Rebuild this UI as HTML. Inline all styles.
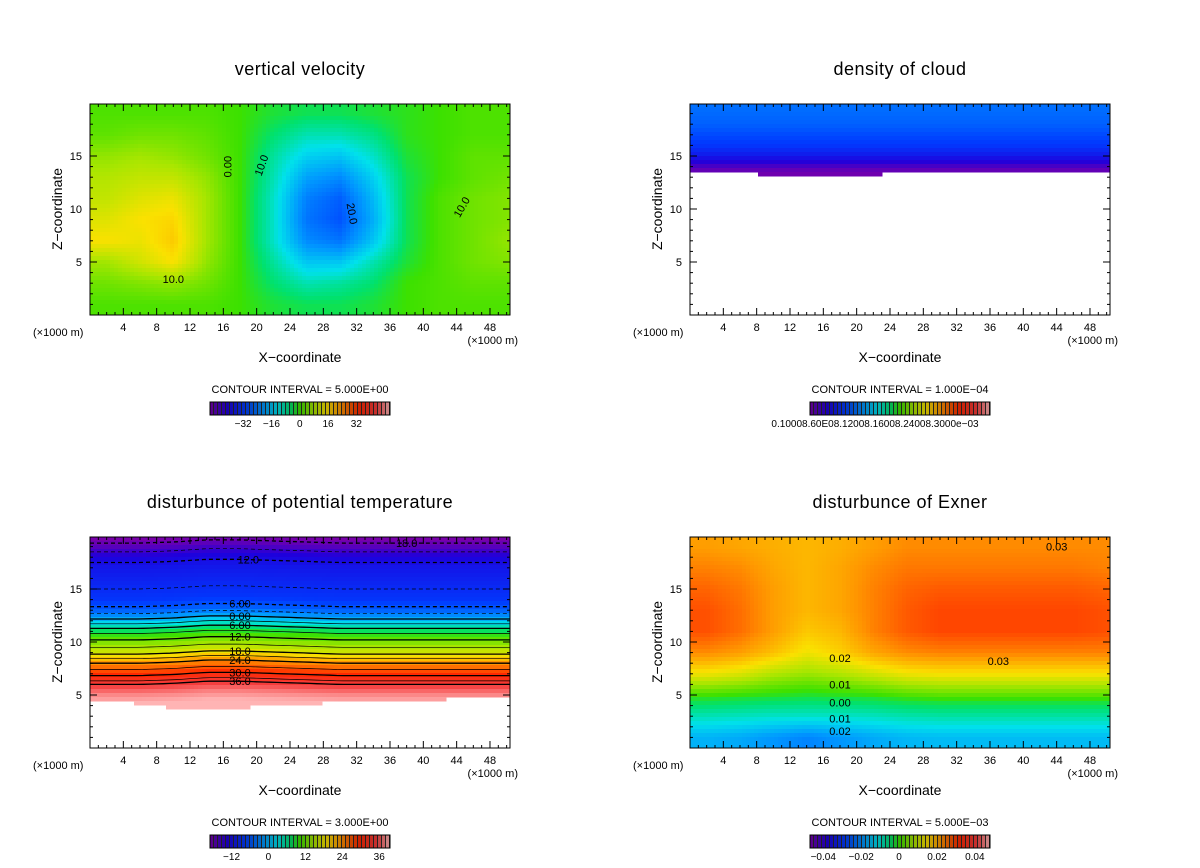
<!DOCTYPE html>
<html><head><meta charset="utf-8"><style>
body{margin:0;background:#fff;}
svg{display:block;font-family:"Liberation Sans",sans-serif;}
</style></head><body>
<svg id="root" width="1200" height="868" viewBox="0 0 1200 868"></svg>
<script>
// ---------- data ----------
const xTicks=[4,8,12,16,20,24,28,32,36,40,44,48];
const zTicks=[5,10,15];
const gridX=[2,6,10,14,18,22,26,30,34,38,42,46,50];
const gridZ=[19,17,15,13,11,9,7,5,3,1];
const velocity=[
[1,1,1,1,0,-2,-3,-3,-2,-1,0,1,1],
[2,3,3,2,0,-4,-7,-7,-5,-1,0,1,1],
[5,6,5,3,0,-6,-11,-12,-8,-2,0,2,2],
[7,8,8,5,0,-7,-15,-17,-11,-3,0,2,3],
[8,10,11,6,0,-8,-18,-21,-13,-3,1,3,4],
[10,12,13,6,0,-8,-19,-22,-14,-3,1,3,4],
[12,11,14,6,0,-8,-17,-19,-12,-3,1,3,5],
[6,9,12,5,0,-6,-12,-12,-7,-2,1,3,4],
[3,4,5,3,0,-4,-7,-6,-4,0,1,2,2],
[1,1,1,1,0,-2,-3,-3,-2,0,1,1,1]];
const exner=[
[.028,.027,.026,.025,.026,.028,.030,.030,.030,.030,.030,.030,.030],
[.031,.030,.027,.025,.027,.030,.032,.032,.032,.032,.032,.032,.031],
[.034,.032,.028,.025,.027,.031,.034,.035,.035,.035,.035,.035,.034],
[.036,.033,.028,.025,.027,.031,.035,.037,.037,.037,.037,.037,.036],
[.036,.033,.028,.023,.025,.031,.035,.037,.037,.037,.037,.037,.036],
[.030,.028,.024,.019,.022,.027,.030,.031,.031,.031,.031,.031,.031],
[.019,.017,.013,.011,.013,.016,.019,.020,.020,.020,.020,.020,.020],
[.004,.003,.002,.001,.002,.003,.005,.006,.006,.006,.006,.006,.006],
[-.012,-.013,-.014,-.014,-.014,-.013,-.011,-.010,-.010,-.010,-.010,-.010,-.010],
[-.028,-.030,-.034,-.038,-.034,-.030,-.027,-.026,-.026,-.026,-.026,-.026,-.026]];
const cloudZ=[20,18,16,15,14.5,14,13.5];
const cloudVal=[2.6e-4,2.4e-4,1.9e-4,1.4e-4,1.0e-4,0.5e-4,0.1e-4];
const cloudBaseX=[0,8,16,23,39,51];
const cloudBase=[13.6,13.3,13.0,13.3,13.6,13.6];
const thetaZ=[20,19,18,17,16,15,14,13,12,11,10,9,8,7,6,5,4,0];
const thetaProfile=[-20,-17,-13,-11,-10,-9,-8,-5,1,8,13,17,24,29,35,38,40,40];
const thetaShift=[0,0,0.1,0.3,0.3,0.2,0.1,0,0,0,0,0,0];
const thetaBase=[4.4,4.2,3.8,3.7,3.8,4.0,4.2,4.3,4.4,4.5,4.6,4.7,4.8];
const thetaLevels=[-18,-15,-12,-9,-6,-3,0,3,6,9,12,15,18,21,24,27,30,33,36];
const thetaLabels=[-18,-12,-6,0,6,12,18,24,30,36];
const velTickLabels=[-32,-16,0,16,32];
const thetaTickLabels=[-12,0,12,24,36];
const exnerTickLabels=[-0.04,-0.02,0,0.02,0.04];
// ---------- helpers ----------
const NS="http://www.w3.org/2000/svg";
const root=document.getElementById('root');
function mk(tag,attrs,parent){const e=document.createElementNS(NS,tag);for(const k in attrs)e.setAttribute(k,attrs[k]);(parent||root).appendChild(e);return e;}
const stops=[[0,120,0,170],[0.1,30,0,220],[0.2,0,60,255],[0.3,0,150,255],[0.38,0,225,235],[0.45,0,225,110],[0.5,60,225,0],[0.58,170,230,0],[0.65,250,225,0],[0.73,255,150,0],[0.83,255,40,0],[0.93,245,60,60],[1,255,180,180]];
function cmap(t,dark){t=Math.max(0,Math.min(1,t));let i=0;while(i<stops.length-2&&t>stops[i+1][0])i++;const a=stops[i],b=stops[i+1];const f=(t-a[0])/(b[0]-a[0]);const d=dark?0.8:1;
return `rgb(${Math.round((a[1]+(b[1]-a[1])*f)*d)},${Math.round((a[2]+(b[2]-a[2])*f)*d)},${Math.round((a[3]+(b[3]-a[3])*f)*d)})`;}
function interp1(xs,ys,x){
 const asc=xs[0]<xs[xs.length-1];
 for(let i=0;i<xs.length-1;i++){const a=xs[i],b=xs[i+1];const lo=Math.min(a,b),hi=Math.max(a,b);
  if(x>=lo&&x<=hi){const f=(x-a)/(b-a);return ys[i]+(ys[i+1]-ys[i])*f;}}
 const first=asc?(x<xs[0]):(x>xs[0]);return first?ys[0]:ys[ys.length-1];}
function bilinear(grid,x,z){
 let fx=(x-gridX[0])/4;fx=Math.max(0,Math.min(gridX.length-1,fx));
 let fz=(gridZ[0]-z)/2;fz=Math.max(0,Math.min(gridZ.length-1,fz));
 const i=Math.min(Math.floor(fx),gridX.length-2),j=Math.min(Math.floor(fz),gridZ.length-2);
 const u=fx-i,v=fz-j;
 return grid[j][i]*(1-u)*(1-v)+grid[j][i+1]*u*(1-v)+grid[j+1][i]*(1-u)*v+grid[j+1][i+1]*u*v;}
function makePanel(dy,dx){const ox=90+dx,oy=315+dy,sx=8.333,sy=10.6;
 return {X:x=>ox+x*sx,Z:z=>oy-z*sy,ix:p=>(p-ox)/sx,iz:p=>(oy-p)/sy,x0:90+dx,x1:510+dx,y0:104+dy,y1:315+dy,cx:300+dx,dy:dy,dx:dx};}
function drawField(P,name,fn){
 const g=mk('g',{'shape-rendering':'crispEdges'});
 
 
 const step=4;
 for(let py=P.y0;py<P.y1;py+=step){for(let px=P.x0;px<P.x1;px+=step){
  const c=fn(P.ix(px+step/2),P.iz(py+step/2));if(!c)continue;
  const w=Math.min(step,P.x1-px)+0.6,h=Math.min(step,P.y1-py)+0.6;
  const r=mk('rect',{x:px,y:py,width:w,height:h,fill:c},g);
  
  
 }}}
function text(x,y,s,size,anchor,name,extra){const t=mk('text',Object.assign({x:x,y:y,'font-size':size,'text-anchor':anchor||'middle',fill:'#000'},extra||{}));t.textContent=s;
 
 return t;}
function drawAxes(P,title,ci,cbLabels,cbMin,cbMax,cbText){
 const f=mk('rect',{x:P.x0,y:P.y0,width:P.x1-P.x0,height:P.y1-P.y0,fill:'none',stroke:'#000','stroke-width':1});
 
 
 for(let x=1;x<=50;x++){const major=x%4===0;const L=major?7:3;const px=P.X(x);
  mk('line',{x1:px,x2:px,y1:P.y1,y2:P.y1-L,stroke:'#000'});mk('line',{x1:px,x2:px,y1:P.y0,y2:P.y0+L,stroke:'#000'});}
 for(let z=1;z<=19;z++){const major=z%5===0;const L=major?7:3;const py=P.Z(z);
  mk('line',{x1:P.x0,x2:P.x0+L,y1:py,y2:py,stroke:'#000'});mk('line',{x1:P.x1,x2:P.x1-L,y1:py,y2:py,stroke:'#000'});}
 xTicks.forEach(v=>text(P.X(v),P.y1+16,String(v),11,'middle','x-tick-label'));
 zTicks.forEach(v=>text(P.x0-8,P.Z(v)+4,String(v),11,'end','z-tick-label'));
 text(P.cx,P.y0-29,title,18,'middle','chart-title',{'letter-spacing':'0.5'});
 text(P.cx,P.y1+47,'X\u2212coordinate',14,'middle','x-axis-title');
 text(P.x0-57,P.y1+21,'(\u00d71000 m)',11,'start','x-unit-left');
 text(P.x1+8,P.y1+29,'(\u00d71000 m)',11,'end','x-unit-right');
 const zt=text(0,0,'Z\u2212coordinate',14,'middle','z-axis-title');zt.setAttribute('transform',`translate(${P.x0-28},${P.Z(10)}) rotate(-90)`);
 text(P.cx,P.y1+78,ci,11,'middle','contour-interval-label');
 const cb=mk('g',{});
 const bx=P.cx-90,by=P.y1+87,bw=180,bh=13;
 mk('rect',{x:bx,y:by,width:bw,height:bh,fill:'#222'},cb);
 const n=45;for(let i=0;i<n;i++){const r=mk('rect',{x:bx+i*bw/n,y:by,width:bw/n-1,height:bh,fill:cmap((i+0.5)/n,true)},cb);
  }
 mk('rect',{x:bx,y:by,width:bw,height:bh,fill:'none',stroke:'#000'},cb);
 if(cbText){text(P.cx-25,by+25,cbText,10,'middle','colorbar-tick-label');}
 else cbLabels.forEach(v=>text(bx+(v-cbMin)/(cbMax-cbMin)*bw,by+25,(v<0?'\u2212'+Math.abs(v):String(v)),10,'middle','colorbar-tick-label'));
}
// ---------- panels ----------
const P1=makePanel(0,0),P2=makePanel(0,600),P3=makePanel(433,0),P4=makePanel(433,600);
drawField(P1,'velocity-field',(x,z)=>cmap(0.5+bilinear(velocity,x,z)/80));
drawAxes(P1,'vertical velocity','CONTOUR INTERVAL = 5.000E+00',velTickLabels,-50.7,51);
text(P1.X(17),P1.Z(14),'0.00',11,'middle','contour-label',{transform:`rotate(-90 ${P1.X(17)} ${P1.Z(14)})`});
text(P1.X(10),P1.Z(3),'10.0',11,'middle','contour-label');
text(P1.X(31),P1.Z(9.5),'20.0',11,'middle','contour-label',{transform:`rotate(80 ${P1.X(31)} ${P1.Z(9.5)})`});
text(P1.X(21),P1.Z(14),'10.0',11,'middle','contour-label',{transform:`rotate(-70 ${P1.X(21)} ${P1.Z(14)})`});
text(P1.X(45),P1.Z(10),'10.0',11,'middle','contour-label',{transform:`rotate(-60 ${P1.X(45)} ${P1.Z(10)})`});
drawField(P2,'cloud-field',(x,z)=>{const b=interp1(cloudBaseX,cloudBase,x);if(z<b)return null;return cmap(interp1(cloudZ,cloudVal,z)/1e-3);});
drawAxes(P2,'density of cloud','CONTOUR INTERVAL = 1.000E\u221204',[],0,1,'0.10008.60E08.12008.16008.24008.3000e\u221203');
function thetaAt(x,z){const s=interp1(gridX,thetaShift,x);return interp1(thetaZ,thetaProfile,z-s);}
drawField(P3,'theta-field',(x,z)=>{const b=interp1(gridX,thetaBase,x);if(z<b)return null;return cmap((thetaAt(x,z)+19)/58.5);});
const tc=mk('g',{fill:'none',stroke:'#000','stroke-width':0.9});
thetaLevels.forEach(L=>{let pts=[];for(let x=0;x<=50.4;x+=0.8){const s=interp1(gridX,thetaShift,x);const zz=interp1(thetaProfile.slice(0,15),thetaZ.slice(0,15),L)+s;
  const b=interp1(gridX,thetaBase,x);if(zz<b)continue;pts.push(P3.X(x).toFixed(1)+','+P3.Z(zz).toFixed(1));}
 const pl=mk('polyline',{points:pts.join(' '),'stroke-dasharray':L<0?'4,3':'none','stroke-width':L%6===0?1.3:0.7},tc);
 });
thetaLabels.forEach(L=>{const zz=interp1(thetaProfile.slice(0,15),thetaZ.slice(0,15),L);const x=L===-18?38:(L===-12?19:18);
 const s=interp1(gridX,thetaShift,x);text(P3.X(x),P3.Z(zz+s)+4,(L<0?Math.abs(L):L).toFixed(Math.abs(L)<10?2:1),11,'middle','contour-label');});
drawAxes(P3,'disturbunce of potential temperature','CONTOUR INTERVAL = 3.000E+00',thetaTickLabels,-19,39.5);
function exT(v){return v>=0?0.47+v*9:0.47+v*5;}
drawField(P4,'exner-field',(x,z)=>cmap(exT(bilinear(exner,x,z))));
[['0.03',44,19],['0.03',37,8.2],['0.02',18,8.5],['0.01',18,6],['0.00',18,4.3],['0.01',18,2.8],['0.02',18,1.6]].forEach(a=>text(P4.X(a[1]),P4.Z(a[2])+4,a[0],11,'middle','contour-label'));
drawAxes(P4,'disturbunce of Exner','CONTOUR INTERVAL = 5.000E\u221203',exnerTickLabels,-0.047,0.048);
</script>
</body></html>
